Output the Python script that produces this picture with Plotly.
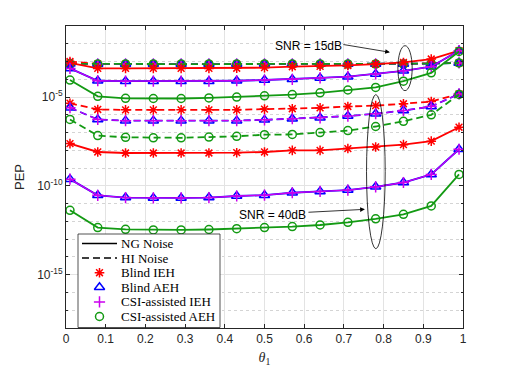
import plotly.graph_objects as go

# theta_1 sweep
theta = [0.01, 0.08, 0.15, 0.22, 0.29, 0.36, 0.43, 0.50, 0.57, 0.64, 0.71, 0.78, 0.85, 0.92, 0.99]

# SNR = 15dB, HI noise (all schemes nearly equal)
hi15_blind_ieh = [1.0e-3, 7.3e-4, 7.2e-4, 7.2e-4, 7.2e-4, 7.2e-4, 7.2e-4, 7.2e-4, 7.2e-4, 7.2e-4, 7.2e-4, 7.2e-4, 7.3e-4, 8.0e-4, 8.3e-4]
hi15_blind_aeh = [7.4e-4, 7.2e-4, 7.2e-4, 7.2e-4, 7.2e-4, 7.2e-4, 7.2e-4, 7.2e-4, 7.2e-4, 7.2e-4, 7.2e-4, 7.2e-4, 7.3e-4, 7.6e-4, 8.3e-4]
hi15_csi_ieh = hi15_blind_aeh
hi15_csi_aeh = [7.4e-4, 7.2e-4, 7.2e-4, 7.2e-4, 7.2e-4, 7.2e-4, 7.2e-4, 7.2e-4, 7.2e-4, 7.2e-4, 7.2e-4, 7.2e-4, 7.3e-4, 7.6e-4, 8.3e-4]

# SNR = 15dB, NG noise
ng15_blind_ieh = [8.3e-4, 4.1e-4, 4.1e-4, 4.1e-4, 4.1e-4, 4.1e-4, 4.2e-4, 4.5e-4, 5.1e-4, 5.4e-4, 6.0e-4, 7.2e-4, 8.9e-4, 1.38e-3, 4.1e-3]
ng15_blind_aeh = [4.1e-4, 8.3e-5, 7.8e-5, 7.8e-5, 7.8e-5, 7.8e-5, 8.3e-5, 9.1e-5, 1.0e-4, 1.2e-4, 1.4e-4, 2.0e-4, 3.0e-4, 5.1e-4, 4.1e-3]
ng15_csi_ieh = ng15_blind_aeh
ng15_csi_aeh = [9.1e-5, 1.1e-5, 8.5e-6, 8.3e-6, 8.3e-6, 8.9e-6, 1.0e-5, 1.17e-5, 1.38e-5, 1.74e-5, 2.5e-5, 3.5e-5, 7.8e-5, 2.3e-4, 3.7e-3]

# SNR = 40dB, HI noise
hi40_blind_ieh = [4.5e-6, 2.0e-6, 1.9e-6, 1.9e-6, 1.9e-6, 1.9e-6, 1.9e-6, 2.1e-6, 2.2e-6, 2.45e-6, 2.95e-6, 3.3e-6, 4.2e-6, 5.6e-6, 1.5e-5]
hi40_blind_aeh = [2.5e-6, 5.5e-7, 4.7e-7, 4.7e-7, 4.7e-7, 4.7e-7, 4.7e-7, 5.2e-7, 6.0e-7, 6.8e-7, 8.5e-7, 1.15e-6, 1.74e-6, 2.95e-6, 1.5e-5]
hi40_csi_ieh = hi40_blind_aeh
hi40_csi_aeh = [5.5e-7, 6.8e-8, 5.4e-8, 5.1e-8, 5.1e-8, 5.6e-8, 6.2e-8, 7.6e-8, 7.9e-8, 1.0e-7, 1.3e-7, 2.2e-7, 4.3e-7, 1.0e-6, 1.4e-5]

# SNR = 40dB, NG noise
ng40_blind_ieh = [2.4e-8, 8.1e-9, 7.1e-9, 7.1e-9, 7.1e-9, 7.1e-9, 7.4e-9, 8.1e-9, 1.0e-8, 1.0e-8, 1.26e-8, 1.55e-8, 2.1e-8, 3.3e-8, 2.0e-7]
ng40_blind_aeh = [2.4e-10, 2.95e-11, 2.2e-11, 2.1e-11, 2.1e-11, 2.2e-11, 2.7e-11, 3.0e-11, 4.1e-11, 4.9e-11, 5.8e-11, 8.9e-11, 1.55e-10, 4.4e-10, 1.15e-8]
ng40_csi_ieh = ng40_blind_aeh
ng40_csi_aeh = [4.2e-12, 4.5e-13, 3.6e-13, 3.3e-13, 3.3e-13, 3.5e-13, 3.9e-13, 4.5e-13, 5.1e-13, 6.3e-13, 8.9e-13, 1.4e-12, 2.5e-12, 7.4e-12, 4.4e-10]

x_ticks = [0, 0.1, 0.2, 0.3, 0.4, 0.5, 0.6, 0.7, 0.8, 0.9, 1]
x_ticktext = ["0", "0.1", "0.2", "0.3", "0.4", "0.5", "0.6", "0.7", "0.8", "0.9", "1"]
y_ticks = [1e-15, 1e-10, 1e-5]
y_ticktext = ["10<sup>-15</sup>", "10<sup>-10</sup>", "10<sup>-5</sup>"]
y_minor = [10.0 ** -k for k in range(1, 19)]

legend_lines = ["NG Noise", "HI Noise"]
legend_schemes = ["Blind IEH", "Blind AEH", "CSI-assisted IEH", "CSI-assisted AEH"]

RED, BLUE, MAG, GREEN = "#ff0000", "#0000ff", "#cc00ee", "#139a13"
styles = [
    (RED, "asterisk-open", 8),
    (BLUE, "triangle-up-open", 9),
    (MAG, "cross-thin-open", 8),
    (GREEN, "circle-open", 8),
]
DASH = "7px,4px"

fig = go.Figure()

groups = [
    (DASH, [hi15_blind_ieh, hi15_blind_aeh, hi15_csi_ieh, hi15_csi_aeh]),
    ("solid", [ng15_blind_ieh, ng15_blind_aeh, ng15_csi_ieh, ng15_csi_aeh]),
    (DASH, [hi40_blind_ieh, hi40_blind_aeh, hi40_csi_ieh, hi40_csi_aeh]),
    ("solid", [ng40_blind_ieh, ng40_blind_aeh, ng40_csi_ieh, ng40_csi_aeh]),
]
for dash, series in groups:
    for (col, sym, sz), vals in zip(styles, series):
        lw = 1.3 if col == MAG else 1.8
        fig.add_trace(go.Scatter(
            x=theta, y=vals, mode="lines+markers", showlegend=False,
            line=dict(color=col, width=lw, dash=dash),
            marker=dict(symbol=sym, size=sz, color=col, line=dict(color=col, width=1.5)),
        ))

# ---- hand-made legend on an overlay axis measured in pixels ----
box_x = [78, 220, 220, 78, 78]
box_y = [234, 234, 327.5, 327.5, 234]
fig.add_trace(go.Scatter(x=box_x, y=box_y, xaxis="x2", yaxis="y2", mode="lines",
                         fill="toself", fillcolor="white", showlegend=False,
                         line=dict(color="#262626", width=0.8), hoverinfo="skip"))
row_y = [243.5, 258.1, 272.7, 287.3, 301.9, 316.5]
for i, name in enumerate(legend_lines):
    fig.add_trace(go.Scatter(x=[82, 117], y=[row_y[i], row_y[i]], xaxis="x2", yaxis="y2",
                             mode="lines", showlegend=False, hoverinfo="skip",
                             line=dict(color="black", width=1.5,
                                       dash="solid" if i == 0 else DASH)))
for j, (col, sym, sz) in enumerate(styles):
    fig.add_trace(go.Scatter(x=[99.5], y=[row_y[j + 2]], xaxis="x2", yaxis="y2",
                             mode="markers", showlegend=False, hoverinfo="skip",
                             marker=dict(symbol=sym, size=sz, color=col,
                                         line=dict(color=col, width=1.5))))
for i, name in enumerate(legend_lines + legend_schemes):
    fig.add_annotation(x=119, y=row_y[i], xref="x2", yref="y2", text=name, showarrow=False,
                       xanchor="left", yanchor="middle",
                       font=dict(family="Liberation Serif", size=13, color="black"))

# ellipses and labels
fig.add_shape(type="circle", xref="x", yref="y", x0=0.836, x1=0.872, y0=2.3e-5, y1=7.8e-3,
              line=dict(color="black", width=0.8))
fig.add_shape(type="circle", xref="x", yref="y", x0=0.757, x1=0.804, y0=2.9e-14, y1=1.38e-5,
              line=dict(color="black", width=0.8))
fig.add_annotation(x=0.61, y=-2.11, text="SNR = 15dB", showarrow=False,
                   font=dict(family="Liberation Sans", size=12, color="black"))
fig.add_annotation(x=0.816, y=-2.48, text="", showarrow=True, axref="pixel", ayref="pixel",
                   ax=-48, ay=-8, arrowhead=2, arrowsize=1.2, arrowwidth=0.8, arrowcolor="black")
fig.add_annotation(x=0.52, y=-11.64, text="SNR = 40dB", showarrow=False,
                   font=dict(family="Liberation Sans", size=12, color="black"))
fig.add_annotation(x=0.753, y=-11.32, text="", showarrow=True, axref="pixel", ayref="pixel",
                   ax=-58, ay=3, arrowhead=2, arrowsize=1.2, arrowwidth=0.8, arrowcolor="black")

axis_common = dict(showline=True, linecolor="#262626", linewidth=1, mirror="ticks",
                   ticks="inside", ticklen=4, tickcolor="#262626", zeroline=False,
                   automargin=False,
                   tickfont=dict(family="Liberation Sans", size=12, color="#262626"))

# the page body adds an 8px offset, so margins are trimmed by 8px on the left/top
fig.update_layout(
    width=512, height=369,
    margin=dict(l=58, r=57, t=18, b=49),
    paper_bgcolor="white", plot_bgcolor="white",
    showlegend=False,
    xaxis=dict(range=[0, 1], tickmode="array", tickvals=x_ticks, ticktext=x_ticktext,
               showgrid=True, gridcolor="#e3e3e3", gridwidth=1,
               title=dict(text="<i>θ</i><sub>1</sub>", standoff=6,
                          font=dict(family="Liberation Serif", size=14, color="#262626")),
               **axis_common),
    yaxis=dict(type="log", range=[-18, -1], tickmode="array", tickvals=y_ticks,
               ticktext=y_ticktext, showgrid=True, gridcolor="#e3e3e3", gridwidth=1,
               minor=dict(tickmode="array", tickvals=y_minor, ticks="inside", ticklen=2,
                          tickcolor="#262626", showgrid=True, gridcolor="#d4d4d4",
                          griddash="dot", gridwidth=1),
               title=dict(text="PEP", standoff=9,
                          font=dict(family="Liberation Sans", size=13, color="#262626")),
               **axis_common),
    xaxis2=dict(overlaying="x", anchor="y2", range=[66, 463], visible=False, fixedrange=True),
    yaxis2=dict(overlaying="y", anchor="x2", range=[328, 26], visible=False, fixedrange=True),
)

fig.write_html("out.html")
